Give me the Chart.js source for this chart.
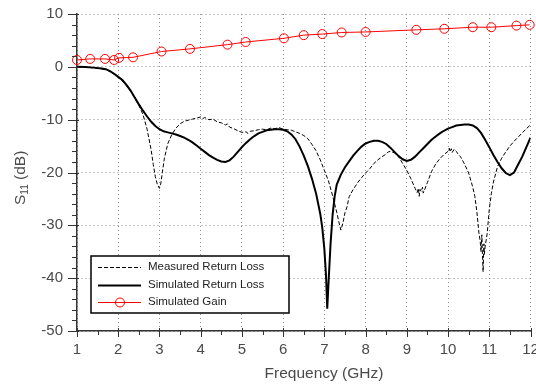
<!DOCTYPE html>
<html><head><meta charset="utf-8">
<script src="https://cdn.jsdelivr.net/npm/chart.js@4/dist/chart.umd.min.js"></script>
<style>html,body{margin:0;padding:0;background:#fff}#wrap{width:536px;height:384px}</style>
</head><body><div id="wrap"><canvas id="c" width="536" height="384"></canvas></div>
<script>
// ---- data ----
const simFreq = [1.0,1.2,1.4,1.6,1.7,1.8,1.9,2.0,2.1,2.2,2.3,2.4,2.5,2.6,2.7,2.8,2.9,3.0,3.1,3.2,3.3,3.4,3.5,3.6,3.7,3.8,3.9,4.0,4.1,4.2,4.3,4.4,4.5,4.6,4.7,4.8,4.9,5.0,5.1,5.2,5.3,5.4,5.5,5.6,5.7,5.8,5.9,6.0,6.1,6.2,6.3,6.4,6.5,6.6,6.7,6.8,6.9,6.95,7.0,7.04,7.07,7.1,7.15,7.2,7.25,7.3,7.4,7.5,7.6,7.7,7.8,7.9,8.0,8.1,8.2,8.3,8.4,8.5,8.6,8.7,8.8,8.9,9.0,9.1,9.2,9.3,9.4,9.5,9.6,9.7,9.8,9.9,10.0,10.1,10.2,10.3,10.4,10.5,10.6,10.7,10.8,10.9,11.0,11.1,11.2,11.3,11.4,11.5,11.6,11.7,11.8,11.9,12.0];
const simS11 = [0,-0.05,-0.15,-0.3,-0.45,-0.8,-1.3,-1.9,-2.5,-3.4,-4.5,-5.8,-7.1,-8.3,-9.4,-10.4,-11.2,-11.8,-12.2,-12.4,-12.6,-12.8,-13.1,-13.4,-13.8,-14.3,-14.9,-15.5,-16.1,-16.7,-17.2,-17.6,-17.9,-18.0,-17.7,-17.0,-16.1,-15.2,-14.4,-13.7,-13.1,-12.6,-12.3,-12.0,-11.9,-11.8,-11.8,-11.9,-12.2,-12.8,-13.7,-15.1,-16.8,-18.8,-21.2,-24.0,-27.8,-30.5,-34.5,-39.5,-45.8,-41.0,-33.5,-28.0,-24.5,-22.3,-20.4,-19.0,-17.9,-16.8,-15.9,-15.1,-14.5,-14.2,-14.0,-14.0,-14.2,-14.6,-15.3,-16.1,-16.9,-17.5,-17.8,-17.6,-17.0,-16.2,-15.4,-14.6,-13.8,-13.2,-12.6,-12.1,-11.7,-11.4,-11.1,-11.0,-10.9,-10.9,-11.1,-11.6,-12.5,-13.8,-15.2,-16.7,-18.0,-19.2,-20.1,-20.5,-20.0,-18.5,-17.0,-15.2,-13.4];
const measFreq = [1.0,1.2,1.4,1.6,1.7,1.8,1.9,2.0,2.1,2.2,2.3,2.4,2.5,2.6,2.7,2.8,2.85,2.9,2.95,3.0,3.03,3.07,3.12,3.2,3.3,3.4,3.5,3.6,3.7,3.8,3.9,4.0,4.05,4.1,4.2,4.3,4.4,4.5,4.6,4.65,4.7,4.8,4.9,5.0,5.1,5.15,5.2,5.3,5.4,5.5,5.6,5.7,5.8,5.9,6.0,6.1,6.2,6.3,6.4,6.5,6.6,6.7,6.8,6.9,7.0,7.1,7.2,7.3,7.35,7.4,7.45,7.5,7.55,7.6,7.7,7.8,7.9,8.0,8.1,8.2,8.3,8.4,8.5,8.55,8.6,8.7,8.8,8.9,9.0,9.1,9.2,9.25,9.28,9.3,9.32,9.35,9.38,9.4,9.5,9.6,9.7,9.8,9.9,10.0,10.03,10.05,10.08,10.1,10.15,10.2,10.25,10.3,10.4,10.5,10.6,10.65,10.7,10.75,10.78,10.8,10.82,10.83,10.85,10.87,10.88,10.9,10.95,11.0,11.05,11.1,11.2,11.3,11.4,11.5,11.6,11.7,11.8,11.9,12.0];
const measS11 = [0,-0.05,-0.2,-0.4,-0.5,-0.9,-1.4,-2.0,-2.7,-3.6,-4.6,-5.9,-7.3,-9.0,-11.8,-15.8,-18.5,-20.8,-22.3,-23.0,-22.2,-20.0,-17.3,-14.6,-12.8,-11.6,-10.8,-10.3,-10.1,-9.9,-9.7,-9.5,-9.8,-9.6,-10.0,-9.9,-10.4,-10.6,-11.0,-10.8,-11.4,-11.7,-12.1,-12.4,-12.3,-12.6,-12.2,-12.1,-11.9,-11.8,-11.9,-11.6,-11.7,-11.5,-11.8,-11.9,-12.0,-12.3,-12.6,-13.0,-13.6,-14.7,-15.9,-17.6,-19.6,-21.6,-24.4,-27.5,-29.3,-30.9,-29.6,-27.6,-26.5,-24.6,-23.2,-22.0,-21.0,-20.1,-19.3,-18.3,-17.6,-17.0,-16.5,-16.1,-16.0,-16.3,-17.0,-18.3,-19.6,-21.2,-23.0,-23.8,-23.0,-24.5,-23.2,-23.6,-22.8,-23.9,-21.9,-19.8,-18.4,-17.4,-16.6,-16.0,-15.4,-16.1,-15.5,-16.2,-15.6,-16.0,-16.6,-17.0,-18.4,-20.1,-22.8,-24.5,-27.5,-31.5,-33.0,-35.0,-31.8,-34.5,-38.8,-33.5,-35.5,-34.0,-31.5,-27.0,-24.0,-21.8,-18.9,-17.3,-16.1,-15.0,-14.1,-13.3,-12.5,-11.7,-11.0];
const gainFreq = [1.0,1.32,1.68,1.9,2.02,2.36,3.05,3.74,4.65,5.09,6.02,6.5,6.95,7.42,8.0,9.23,9.91,10.6,11.05,11.66,11.98];
const gainDb = [1.3,1.5,1.5,1.3,1.7,1.8,2.9,3.4,4.2,4.7,5.4,6.0,6.2,6.5,6.6,7.0,7.2,7.5,7.5,7.8,7.95];
const xTickValues = [1,2,3,4,5,6,7,8,9,10,11,12];
const yTickValues = [10,0,-10,-20,-30,-40,-50];
const legendLabels = ['Measured Return Loss','Simulated Return Loss','Simulated Gain'];
const xTitle = 'Frequency (GHz)';

const toXY = (xs, ys) => xs.map((x, i) => ({x: x, y: ys[i]}));
const FONT = '"Liberation Sans", Arial, Helvetica, sans-serif';
const LABEL_COLOR = '#4a4a4a';

const decor = {
  id: 'decor',
  afterDraw(chart) {
    const ctx = chart.ctx, xs = chart.scales.x, ys = chart.scales.y, a = chart.chartArea;
    ctx.save();
    ctx.strokeStyle = '#333'; ctx.lineWidth = 1;
    for (let k = 0; k <= 22; k++) {
      const v = 1 + k * 0.5;
      const px = Math.round(xs.getPixelForValue(v)) + 0.5;
      const major = k % 2 === 0;
      ctx.beginPath();
      ctx.moveTo(px, a.bottom - (major ? 3 : 0));
      ctx.lineTo(px, a.bottom + (major ? 6 : 4));
      ctx.stroke();
    }
    for (let v = -50; v <= 10; v += 2) {
      const py = Math.round(ys.getPixelForValue(v)) + 0.5;
      const major = v % 10 === 0;
      ctx.beginPath();
      ctx.moveTo(a.left - (major ? 9 : 5), py);
      ctx.lineTo(a.left + (major ? 2 : 0), py);
      ctx.stroke();
    }
    // x title
    ctx.fillStyle = LABEL_COLOR;
    ctx.font = '15.5px ' + FONT;
    ctx.textAlign = 'center'; ctx.textBaseline = 'alphabetic';
    ctx.fillText(xTitle, 324, 378);
    // y title with subscript
    ctx.save();
    ctx.translate(24.5, 205);
    ctx.rotate(-Math.PI / 2);
    ctx.textAlign = 'left';
    ctx.font = '15.5px ' + FONT;
    ctx.fillText('S', 0, 0);
    let w = ctx.measureText('S').width;
    ctx.font = '10px ' + FONT;
    ctx.fillText('11', w, 3.5);
    w += ctx.measureText('11').width;
    ctx.font = '15.5px ' + FONT;
    ctx.fillText(' (dB)', w, 0);
    ctx.restore();
    // legend
    const bx = 91, by = 256, bw = 198, bh = 57;
    ctx.fillStyle = '#fff'; ctx.fillRect(bx, by, bw, bh);
    ctx.strokeStyle = '#000'; ctx.lineWidth = 1.5; ctx.strokeRect(bx, by, bw, bh);
    const rows = [267, 284.5, 302];
    const ds = chart.data.datasets;
    ctx.font = '11.5px ' + FONT; ctx.textBaseline = 'middle'; ctx.textAlign = 'left';
    rows.forEach((ry, i) => {
      const d = ds[i];
      ctx.save();
      ctx.strokeStyle = d.borderColor; ctx.lineWidth = d.borderWidth;
      ctx.setLineDash(d.borderDash || []);
      ctx.beginPath(); ctx.moveTo(98, Math.round(ry) + 0.5); ctx.lineTo(141, Math.round(ry) + 0.5); ctx.stroke();
      if (d.pointRadius) {
        ctx.setLineDash([]);
        ctx.beginPath(); ctx.arc(120, Math.round(ry) + 0.5, d.pointRadius, 0, Math.PI * 2); ctx.stroke();
      }
      ctx.restore();
      ctx.fillStyle = '#222';
      ctx.fillText(legendLabels[i], 148, ry);
    });
    ctx.restore();
  }
};

new Chart(document.getElementById('c'), {
  type: 'line',
  data: {
    datasets: [
      {label: legendLabels[0], data: toXY(measFreq, measS11), borderColor: '#000', borderWidth: 1, borderDash: [4, 2], pointRadius: 0, tension: 0, order: 2},
      {label: legendLabels[1], data: toXY(simFreq, simS11), borderColor: '#000', borderWidth: 2, pointRadius: 0, tension: 0, order: 1},
      {label: legendLabels[2], data: toXY(gainFreq, gainDb), borderColor: '#ff0000', borderWidth: 1, pointRadius: 4.5, pointBorderWidth: 1, pointBorderColor: '#ff0000', pointBackgroundColor: 'rgba(0,0,0,0)', tension: 0, clip: false, order: 0}
    ]
  },
  options: {
    responsive: false, animation: false,
    layout: {padding: {left: 0, right: 5, top: 14, bottom: 0}},
    plugins: {legend: {display: false}, tooltip: {enabled: false}},
    scales: {
      x: {
        type: 'linear', min: 1, max: 12,
        afterBuildTicks: s => { s.ticks = xTickValues.map(v => ({value: v})); },
        afterFit: s => { s.height = 53; s.paddingLeft = 0; s.paddingRight = 0; },
        ticks: {font: {family: FONT, size: 15}, color: LABEL_COLOR, padding: 10, maxRotation: 0, autoSkip: false},
        grid: {color: '#8a8a8a', lineWidth: 1, drawTicks: false},
        border: {color: '#333', width: 1.5, dash: [1, 3]}
      },
      y: {
        type: 'linear', min: -50, max: 10,
        afterBuildTicks: s => { s.ticks = yTickValues.map(v => ({value: v})); },
        afterFit: s => { s.width = 77; s.paddingTop = 0; s.paddingBottom = 0; },
        ticks: {font: {family: FONT, size: 15}, color: LABEL_COLOR, padding: 14},
        grid: {color: '#8a8a8a', lineWidth: 1, drawTicks: false},
        border: {color: '#333', width: 1.5, dash: [1, 3]}
      }
    }
  },
  plugins: [decor]
});
</script></body></html>
